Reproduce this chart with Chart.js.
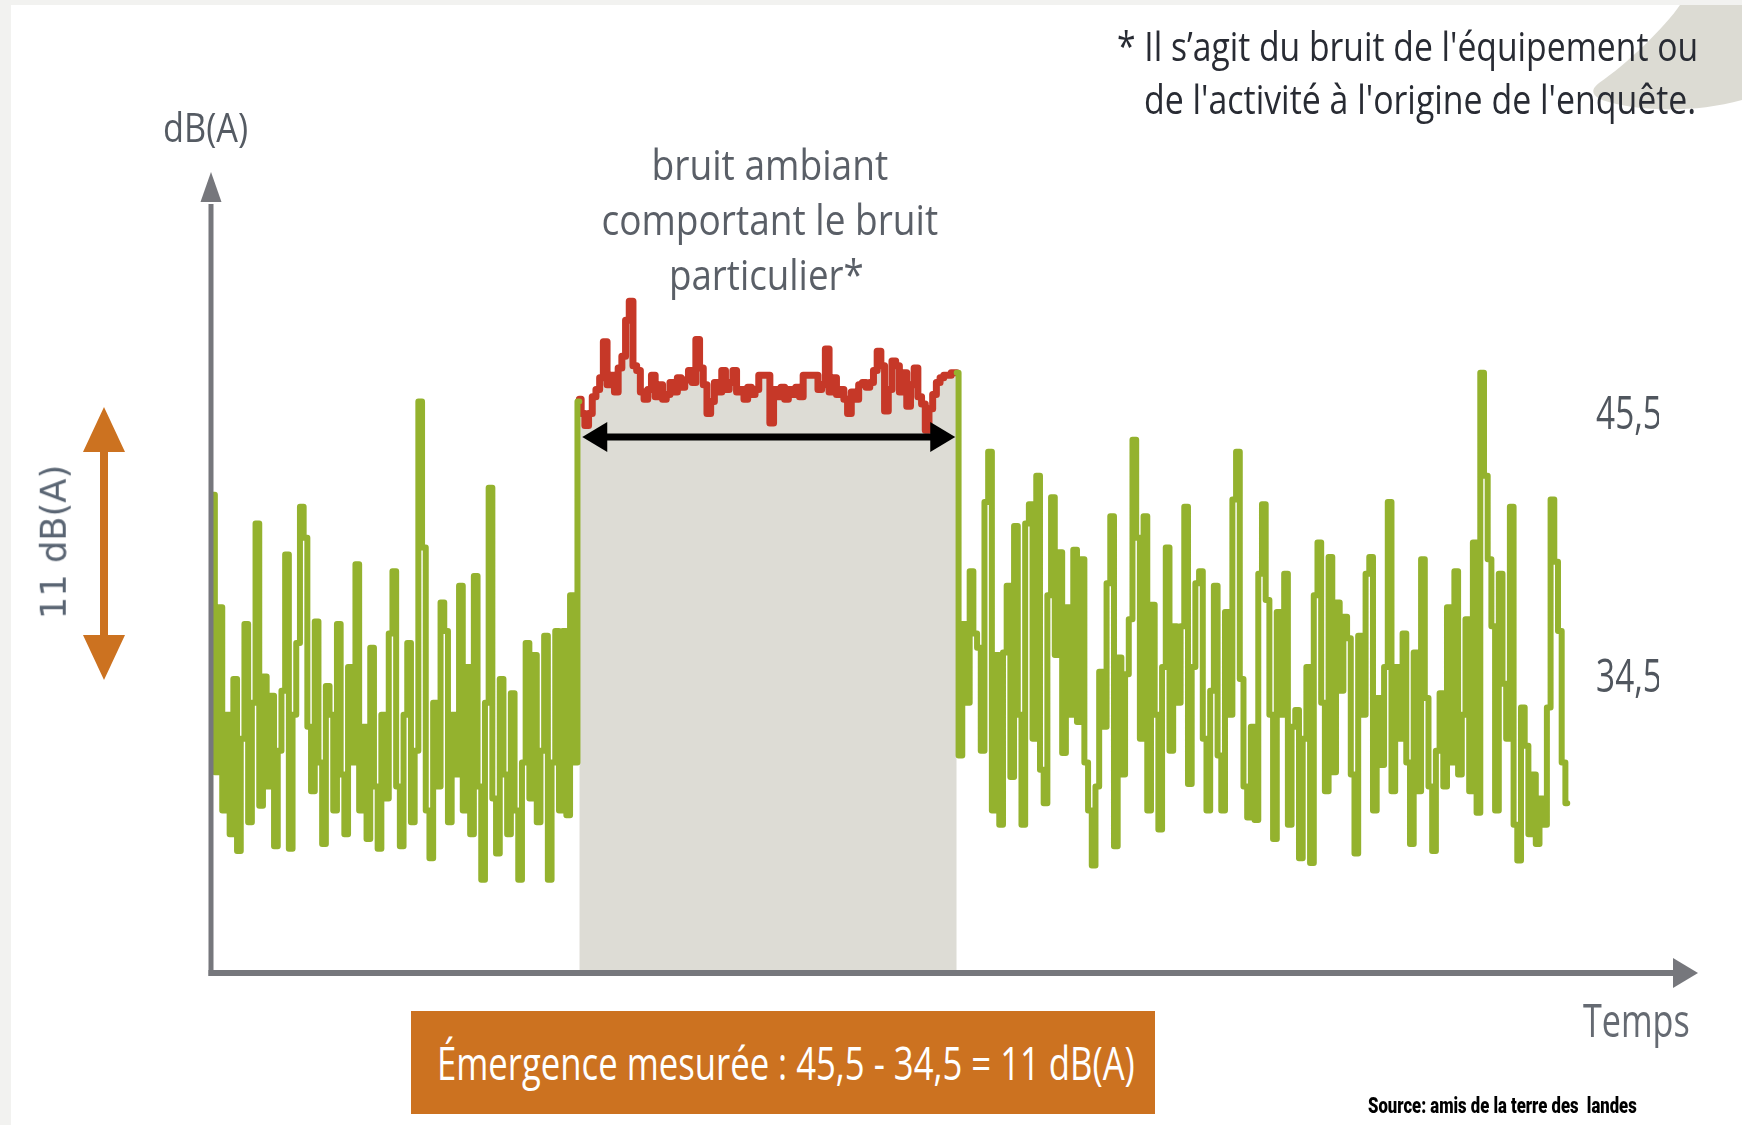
<!DOCTYPE html>
<html><head><meta charset="utf-8">
<script src="https://cdn.jsdelivr.net/npm/chart.js@4.4.1/dist/chart.umd.min.js"></script>
<style>
html,body{margin:0;padding:0;width:1742px;height:1125px;overflow:hidden;background:#fff;}
#c{position:absolute;left:0;top:0;}
.t{position:absolute;left:0;top:0;line-height:1;white-space:pre;}
</style></head><body>
<canvas id="c" width="1742" height="1125"></canvas>
<script>
// ---------- data (dB(A)) ----------
const greenLeft = [
 42.2,30.6,37.5,29.0,33.0,28.0,34.5,27.3,32.0,36.8,
 28.5,33.5,41.0,29.2,34.6,30.0,33.8,27.5,31.5,34.0,
 39.7,27.4,33.0,36.0,41.7,40.4,32.5,29.8,36.9,31.0,
 27.6,34.2,33.0,29.0,36.8,30.5,28.0,35.0,31.0,39.3,
 29.0,32.5,27.8,35.8,30.0,27.4,33.0,29.5,36.4,39.0,
 30.0,27.5,33.0,36.0,28.5,31.5,46.1,40.0,29.0,27.0,
 33.5,30.0,37.7,36.5,28.5,33.0,30.5,38.4,29.0,35.0,
 28.0,38.8,30.0,26.1,33.5,42.5,29.5,27.2,34.5,30.5,
 28.0,33.9,29.0,26.1,31.0,36.0,29.5,35.5,28.5,31.5,
 36.3,26.1,31.0,36.5,29.0,36.5,28.8,38.0,31.0,46.1];
const redAmbient = [
 46.2,45.6,45.1,45.6,46.3,46.6,47.1,48.6,46.8,47.2,
 46.5,47.5,48.0,49.5,50.3,47.6,47.4,46.5,46.2,46.6,
 47.2,46.3,46.8,46.2,46.4,46.9,46.5,47.1,46.7,47.0,
 47.4,46.9,48.7,47.5,46.8,45.6,46.1,46.9,46.5,47.4,
 46.6,46.9,47.4,46.5,46.6,46.2,46.7,46.4,46.6,47.2,
 47.2,47.2,45.2,46.6,46.3,46.7,46.2,46.6,46.4,46.7,
 46.3,47.2,47.2,47.2,47.2,46.6,46.8,48.3,46.5,47.1,
 46.4,46.6,46.2,45.6,46.5,46.2,46.8,46.9,46.7,46.9,
 47.4,48.2,47.6,45.7,46.6,47.8,47.6,46.5,47.3,45.9,
 46.8,47.5,46.3,46.0,44.9,45.8,46.4,46.9,47.1,47.2,
 47.2,47.3,47.3];
const greenRight = [
 47.3,31.3,36.8,33.5,39.0,36.4,35.8,31.5,41.9,44.0,
 29.0,35.5,28.4,35.6,38.4,30.4,40.9,33.0,28.4,41.0,
 41.8,32.0,43.0,30.7,29.3,38.0,42.1,35.5,39.8,31.4,
 37.5,33.0,39.9,32.7,39.5,31.0,29.0,26.7,30.0,34.8,
 32.5,38.5,41.3,27.5,35.4,30.5,34.7,37.0,44.5,40.4,
 32.0,41.3,29.0,37.6,33.0,28.2,35.0,40.0,31.5,36.7,
 33.5,36.7,41.7,30.1,35.0,38.5,39.0,32.0,29.0,34.0,
 38.4,31.3,29.0,37.3,33.0,42.0,44.0,34.5,30.0,28.7,
 32.5,28.6,38.9,41.8,37.8,33.0,27.8,37.3,33.0,38.9,
 28.4,32.5,33.2,27.0,32.0,35.0,26.8,38.0,40.2,33.5,
 29.8,39.6,30.6,37.7,34.0,37.1,36.2,30.5,27.2,36.3,
 33.0,38.9,39.6,29.0,33.7,30.9,35.0,41.9,29.8,35.0,
 32.0,36.4,31.0,27.6,35.6,29.8,39.5,33.7,30.0,27.3,
 31.5,33.9,30.0,37.5,31.0,39.0,30.5,33.0,37.0,29.8,
 40.2,28.9,47.3,43.0,39.5,36.7,29.0,38.9,34.3,32.0,
 41.7,28.4,26.9,33.3,31.7,28.0,30.5,27.6,29.5,28.4,
 33.3,42.0,39.4,36.5,31.0,29.3];
const startLeft = 0, startRed = 99, startRight = 201;   // time index of first sample
const yTickValues = [34.5, 45.5];
const yTickLabels = ['34,5', '45,5'];
const emergence = [34.5, 45.5];
const ambientSpan = [99.8, 200.6];   // time range of the black double arrow
const ambientArrowLevel = 44.62;     // dB level of the black double arrow

const GREEN = '#94b22e', RED = '#c63828', FILL = '#dddcd5', AXIS = '#76777c', ORANGE = '#cc7220';

function series(arr, t0){ return arr.map((v,i)=>({x:t0+i, y:v})); }

const bgPlugin = {
  id:'bg',
  beforeDraw(chart){
    const c = chart.ctx, W = chart.width, H = chart.height;
    c.save();
    c.fillStyle = '#fff'; c.fillRect(0,0,W,H);
    c.fillStyle = '#f2f2f0'; c.fillRect(0,0,11,H); c.fillRect(0,0,W,5);
    c.fillStyle = '#dcdbd3';
    c.beginPath();
    c.moveTo(1680,5);
    c.bezierCurveTo(1665,27,1627,64,1599,83);
    c.quadraticCurveTo(1586,93,1602,100);
    c.bezierCurveTo(1635,111,1692,114,1742,100);
    c.lineTo(1742,5); c.closePath(); c.fill();
    c.restore();
  }
};

function arrowHead(c, tipX, tipY, baseX, baseY, half){
  const dx = tipX-baseX, dy = tipY-baseY, L = Math.hypot(dx,dy);
  const nx = -dy/L*half, ny = dx/L*half;
  c.beginPath(); c.moveTo(tipX,tipY); c.lineTo(baseX+nx,baseY+ny); c.lineTo(baseX-nx,baseY-ny); c.closePath(); c.fill();
}

const annotPlugin = {
  id:'annot',
  afterLayout(chart){
    const s = chart.scales.y;
    if (!s._condensed){
      const orig = s.drawLabels;
      s.drawLabels = function(area){
        const c = this.ctx; c.save();
        c.translate(this.left,0); c.scale(0.74,1); c.translate(-this.left,0);
        orig.call(this, area); c.restore();
      };
      s._condensed = true;
    }
  },
  afterDatasetsDraw(chart){
    const c = chart.ctx, x = chart.scales.x, y = chart.scales.y, a = chart.chartArea;
    c.save();
    // black double arrow over the ambient period
    const ay = y.getPixelForValue(ambientArrowLevel);
    const x1 = x.getPixelForValue(ambientSpan[0]), x2 = x.getPixelForValue(ambientSpan[1]);
    c.strokeStyle = '#000'; c.fillStyle = '#000'; c.lineWidth = 7;
    c.beginPath(); c.moveTo(x1+20,ay); c.lineTo(x2-20,ay); c.stroke();
    arrowHead(c, x1, ay, x1+25, ay, 15);
    arrowHead(c, x2, ay, x2-25, ay, 15);
    // axes
    c.strokeStyle = AXIS; c.fillStyle = AXIS;
    c.lineWidth = 5;
    c.beginPath(); c.moveTo(a.left, a.bottom+3); c.lineTo(a.left, a.top+26); c.stroke();
    arrowHead(c, a.left, a.top-6, a.left, a.top+24, 10.5);
    c.lineWidth = 6;
    c.beginPath(); c.moveTo(a.left-2.5, a.bottom); c.lineTo(1676, a.bottom); c.stroke();
    arrowHead(c, 1698, a.bottom, 1673, a.bottom, 15);
    // orange emergence arrow
    const top = y.getPixelForValue(emergence[1]) - 9, bot = y.getPixelForValue(emergence[0]) + 1;
    c.strokeStyle = ORANGE; c.fillStyle = ORANGE; c.lineWidth = 8;
    c.beginPath(); c.moveTo(104, top+40); c.lineTo(104, bot-40); c.stroke();
    arrowHead(c, 104, top, 104, top+45, 21);
    arrowHead(c, 104, bot, 104, bot-45, 21);
    c.restore();
  }
};

const lineStyle = {pointRadius:0, borderWidth:6, tension:0, stepped:'middle', borderJoinStyle:'round', borderCapStyle:'round'};

new Chart(document.getElementById('c').getContext('2d'), {
  type:'line',
  data:{datasets:[
    Object.assign({label:'bruit résiduel', data:series(greenLeft,startLeft), borderColor:GREEN, fill:false}, lineStyle),
    Object.assign({label:'bruit résiduel (suite)', data:series(greenRight,startRight), borderColor:GREEN, fill:false}, lineStyle),
    Object.assign({label:'bruit ambiant', data:series(redAmbient,startRed), borderColor:RED, backgroundColor:FILL, fill:'start'}, lineStyle, {borderWidth:7})
  ]},
  options:{
    responsive:false, animation:false, devicePixelRatio:1,
    layout:{padding:{left:211, top:178, right:57, bottom:152}},
    plugins:{legend:{display:false}, tooltip:{enabled:false}},
    scales:{
      x:{type:'linear', min:-0.54, max:370.8, display:false},
      y:{type:'linear', position:'right', min:22.2, max:55.45,
         grid:{display:false, drawTicks:false}, border:{display:false},
         afterFit(s){ s.width = 100; },
         afterBuildTicks(s){ s.ticks = yTickValues.map(v=>({value:v})); },
         ticks:{padding:15, color:'#50565e', font:{family:"'Open Sans', sans-serif", size:45},
                callback:(v)=>yTickLabels[yTickValues.indexOf(v)]}}
    }
  },
  plugins:[bgPlugin, annotPlugin]
});

// ---------- text annotations ----------
function addText(txt, o){
  const d = document.createElement('div');
  d.className = 't';
  d.style.fontFamily = o.family || "'Open Sans', sans-serif";
  d.style.fontSize = o.size+'px';
  d.style.fontWeight = o.weight || 400;
  d.style.color = o.color;
  d.textContent = txt;
  const m = document.createElement('span');
  m.style.cssText = 'display:inline-block;width:0;height:0;vertical-align:baseline;';
  d.appendChild(m);
  document.body.appendChild(d);
  const w = d.offsetWidth, h = d.offsetHeight, base = m.offsetTop;
  const sx = o.width ? o.width/w : 1;
  if (o.rotate){
    const cx = o.baseX - (base - h/2);
    d.style.left = (cx - w/2)+'px'; d.style.top = (o.cy - h/2)+'px';
    d.style.transformOrigin = '50% 50%';
    d.style.transform = 'rotate(-90deg) scaleX('+sx+')';
    return;
  }
  const left = o.anchor==='right' ? o.x-w : o.anchor==='center' ? o.x-w/2 : o.x;
  d.style.left = left+'px'; d.style.top = (o.baseline-base)+'px';
  d.style.transformOrigin = o.anchor==='right' ? '100% 0' : o.anchor==='center' ? '50% 0' : '0 0';
  d.style.transform = 'scaleX('+sx+')';
}

function drawTexts(){
  addText("* Il s’agit du bruit de l'équipement ou", {x:1698, baseline:61, anchor:'right', size:40, width:581, color:'#282b33'});
  addText("de l'activité à l'origine de l'enquête.", {x:1696, baseline:114, anchor:'right', size:40, width:552, color:'#282b33'});
  addText("dB(A)", {x:163, baseline:142, size:40, width:85, color:'#555b63'});
  addText("bruit ambiant", {x:770, baseline:180, anchor:'center', size:42, width:237, color:'#5a5f67'});
  addText("comportant le bruit", {x:770, baseline:235, anchor:'center', size:42, width:337, color:'#5a5f67'});
  addText("particulier*", {x:766, baseline:290, anchor:'center', size:42, width:195, color:'#5a5f67'});
  addText("Temps", {x:1583, baseline:1037, size:45, width:107, color:'#656a72'});
  addText("11 dB(A)", {rotate:true, baseX:66, cy:542, size:36, width:155, family:"'DejaVu Sans', sans-serif", color:'#5a6573'});
  const box = document.createElement('div');
  box.style.cssText = 'position:absolute;left:411px;top:1011px;width:744px;height:103px;background:'+ORANGE+';';
  document.body.appendChild(box);
  addText("Émergence mesurée : 45,5 - 34,5 = 11 dB(A)", {x:786, baseline:1080, anchor:'center', size:46, width:698, color:'#ffffff'});
  addText("Source: amis de la terre des  landes", {x:1368, baseline:1113, size:22, weight:900, width:269, family:"Roboto, sans-serif", color:'#000'});
}
if (document.fonts && document.fonts.ready) document.fonts.ready.then(drawTexts); else drawTexts();
</script>
</body></html>
